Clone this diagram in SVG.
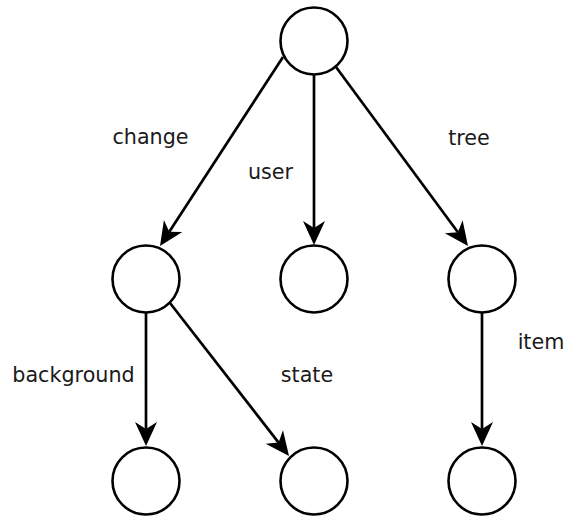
<svg xmlns="http://www.w3.org/2000/svg" width="564" height="516" viewBox="0 0 564 516">
<style>
.node circle{fill:#fff;stroke:#000;stroke-width:2.6}
.edges line{stroke:#000;stroke-width:2.7;fill:none;marker-end:url(#arr)}
.lbl{font-family:"DejaVu Sans",sans-serif;font-size:20.7px;fill:#1a1a1a;text-anchor:middle}
</style>
<defs>
<marker id="arr" markerUnits="userSpaceOnUse" markerWidth="24" markerHeight="22" refX="7" refY="11" orient="auto" overflow="visible">
<path d="M0,0 L24,11 L0,22 L7,11 Z" fill="#000"/>
</marker>
</defs>
<rect width="564" height="516" fill="#fff"/>
<g id="edges" class="edges">
<line x1="283" y1="57" x2="169.3" y2="231.8"/>
<line x1="314" y1="75" x2="314" y2="228"/>
<line x1="336" y1="67" x2="457.9" y2="232.3"/>
<line x1="146" y1="313" x2="146" y2="429"/>
<line x1="170" y1="303" x2="278.6" y2="442.6"/>
<line x1="482" y1="313" x2="482" y2="429"/>
</g>
<g id="labels">
<text class="lbl" x="150.5" y="144">change</text>
<text class="lbl" x="270.5" y="179">user</text>
<text class="lbl" x="469" y="145">tree</text>
<text class="lbl" x="73.5" y="382">background</text>
<text class="lbl" x="307" y="382">state</text>
<text class="lbl" x="541" y="349">item</text>
</g>
<g id="root" class="node"><circle cx="314" cy="41" r="33.5"/></g>
<g id="n_change" class="node"><circle cx="146" cy="279" r="33.5"/></g>
<g id="n_user" class="node"><circle cx="314" cy="279" r="33.5"/></g>
<g id="n_tree" class="node"><circle cx="482" cy="279" r="33.5"/></g>
<g id="n_background" class="node"><circle cx="146" cy="481" r="33.5"/></g>
<g id="n_state" class="node"><circle cx="314" cy="481" r="33.5"/></g>
<g id="n_item" class="node"><circle cx="482" cy="481" r="33.5"/></g>
</svg>
